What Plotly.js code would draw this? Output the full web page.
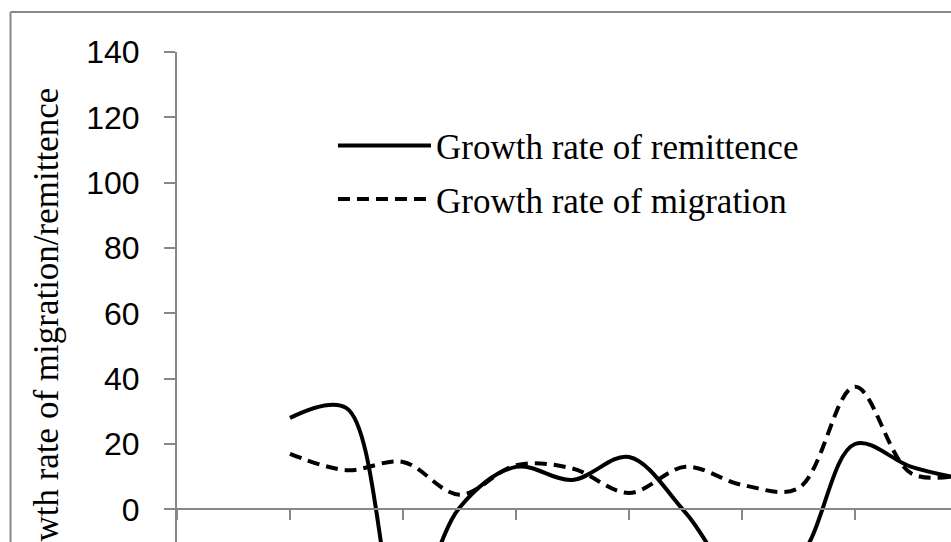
<!DOCTYPE html>
<html>
<head>
<meta charset="utf-8">
<script src="https://cdn.plot.ly/plotly-3.0.1.min.js"></script>
<style>
html,body{margin:0;padding:0;background:#fff;overflow:hidden;}
#chart{width:951px;height:542px;}
</style>
</head>
<body>
<div id="chart"></div>
<script>
// Period index (tick marks every 2 periods)
const periods = [2, 3, 4, 5, 6, 7, 8, 9, 10, 11, 12, 13, 14];
const remittanceGrowth = [28, 31, -35, 0.5, 13, 9, 16, -1, -22, -15, 20, 13, 9];
const migrationGrowth  = [17, 12, 14.5, 4.5, 13.5, 12.5, 5, 13, 7.5, 6.5, 37.5, 11, 11];
const seriesNames = ['Growth rate of remittence', 'Growth rate of migration'];
const yTitle = 'Growth rate of migration/remittence';
const yRange = [-10, 140];
const xRange = [0, 13.7];

const axisGray = '#878787';
const serif = '"Liberation Serif", "Times New Roman", Times, serif';
const sans = '"Liberation Sans", Arial, Helvetica, sans-serif';

const traces = [
  {
    x: periods, y: remittanceGrowth, name: seriesNames[0], legendgroup: 'a',
    type: 'scatter', mode: 'lines',
    line: {color: '#000', width: 4, shape: 'spline', smoothing: 1}
  },
  {
    x: periods, y: migrationGrowth, name: seriesNames[1], legendgroup: 'b',
    type: 'scatter', mode: 'lines',
    line: {color: '#000', width: 4, shape: 'spline', smoothing: 1, dash: '12px,7px'}
  }
];

const zeroPos = (0 - yRange[0]) / (yRange[1] - yRange[0]);

const layout = {
  width: 951, height: 542,
  margin: {l: 177, r: 0, t: 52, b: 0, pad: 0, autoexpand: false},
  paper_bgcolor: '#fff', plot_bgcolor: '#fff',
  showlegend: true,
  legend: {
    x: 0.2015, y: 0.869, xanchor: 'left', yanchor: 'top',
    font: {family: serif, size: 35, color: '#000'},
    bgcolor: 'rgba(0,0,0,0)', borderwidth: 0,
    itemwidth: 93, traceorder: 'grouped', tracegroupgap: 5
  },
  xaxis: {
    range: xRange, anchor: 'free', position: zeroPos,
    showline: true, linecolor: axisGray, linewidth: 2,
    ticks: 'outside', ticklen: 10, tickwidth: 2, tickcolor: axisGray,
    tick0: 0, dtick: 2, showticklabels: false,
    showgrid: false, zeroline: false, automargin: false, fixedrange: true
  },
  yaxis: {
    range: yRange, tick0: 0, dtick: 20,
    showline: true, linecolor: axisGray, linewidth: 2,
    ticks: 'outside', ticklen: 11, tickwidth: 2, tickcolor: axisGray,
    tickfont: {family: sans, size: 32, color: '#000'},
    ticklabelstandoff: 18,
    showgrid: false, zeroline: false, automargin: false, fixedrange: true
  },
  annotations: [{
    text: yTitle, textangle: -90,
    xref: 'paper', yref: 'paper',
    x: (46 - 177) / 774, y: (542 - 86) / 490,
    xanchor: 'center', yanchor: 'top',
    showarrow: false,
    font: {family: serif, size: 35, color: '#000'}
  }],
  shapes: [
    {type: 'line', xref: 'paper', yref: 'paper',
     x0: (10.5 - 177) / 774, x1: 1.01, y0: (542 - 12) / 490, y1: (542 - 12) / 490,
     line: {color: axisGray, width: 2}},
    {type: 'line', xref: 'paper', yref: 'paper',
     x0: (10.5 - 177) / 774, x1: (10.5 - 177) / 774, y0: (542 - 12) / 490, y1: -0.02,
     line: {color: axisGray, width: 2}}
  ]
};

Plotly.newPlot('chart', traces, layout, {displayModeBar: false, staticPlot: true});
</script>
</body>
</html>
